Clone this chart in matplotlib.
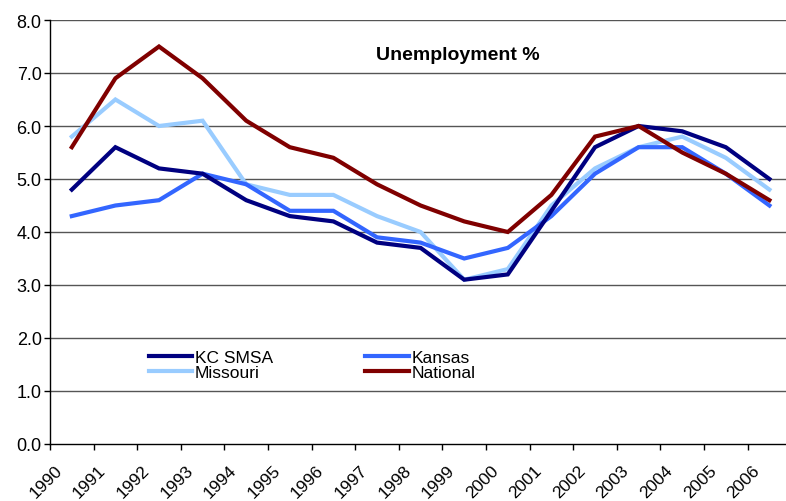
import matplotlib
matplotlib.use("Agg")
import matplotlib.pyplot as plt
import matplotlib.transforms as mtransforms
import numpy as np

years = [str(y) for y in range(1990, 2007)]
kc_smsa = [4.8, 5.6, 5.2, 5.1, 4.6, 4.3, 4.2, 3.8, 3.7, 3.1, 3.2, 4.4, 5.6, 6.0, 5.9, 5.6, 5.0]
kansas = [4.3, 4.5, 4.6, 5.1, 4.9, 4.4, 4.4, 3.9, 3.8, 3.5, 3.7, 4.3, 5.1, 5.6, 5.6, 5.1, 4.5]
missouri = [5.8, 6.5, 6.0, 6.1, 4.9, 4.7, 4.7, 4.3, 4.0, 3.1, 3.3, 4.5, 5.2, 5.6, 5.8, 5.4, 4.8]
national = [5.6, 6.9, 7.5, 6.9, 6.1, 5.6, 5.4, 4.9, 4.5, 4.2, 4.0, 4.7, 5.8, 6.0, 5.5, 5.1, 4.6]
y_ticks = [0, 1, 2, 3, 4, 5, 6, 7, 8]

plt.rcParams['font.family'] = ['Liberation Sans', 'DejaVu Sans']

W, H = 786, 502
fig = plt.figure(figsize=(W / 100, H / 100), dpi=100)
left_px, right_px, top_px, bottom_px = 50, 786, 21, 445
ax = fig.add_axes([left_px / W, 1 - bottom_px / H,
                   (right_px - left_px) / W, (bottom_px - top_px) / H])

x = np.arange(len(years))
step = 43.6
ax.set_xlim(-0.5, -0.5 + (right_px - left_px) / step)
ax.set_ylim(0, 8)

for yv in y_ticks[1:]:
    ax.axhline(yv, color='#555555', lw=1.0, zorder=1)

series = [
    ("KC SMSA", kc_smsa, "#000080"),
    ("Missouri", missouri, "#99CCFF"),
    ("Kansas", kansas, "#3366FF"),
    ("National", national, "#800000"),
]
draw_order = ["Missouri", "Kansas", "KC SMSA", "National"]
handles = {}
for name, vals, col in series:
    z = 3 + draw_order.index(name)
    (ln,) = ax.plot(x, vals, color=col, lw=3.0, solid_joinstyle='miter', zorder=z, label=name)
    handles[name] = ln

for sp in ['top', 'right']:
    ax.spines[sp].set_visible(False)
for sp in ['left', 'bottom']:
    ax.spines[sp].set_color('black')
    ax.spines[sp].set_linewidth(1.0)

ax.set_yticks(y_ticks)
ax.set_yticklabels([f"{v:.1f}" for v in y_ticks], fontsize=13)
ax.tick_params(axis='y', direction='out', length=4, width=1, pad=2)

ax.set_xticks(np.arange(-0.5, len(years) - 0.5, 1.0))
ax.set_xticklabels([])
ax.tick_params(axis='x', which='major', direction='out', length=4, width=1)
ax.set_xticks(x, minor=True)
ax.set_xticklabels(years, minor=True, fontsize=12.5, rotation=45,
                   ha='right', va='center', rotation_mode='anchor')
ax.tick_params(axis='x', which='minor', length=0, pad=17)
offset = mtransforms.ScaledTranslation(-12 / 100, 0, fig.dpi_scale_trans)
for lab in ax.get_xticklabels(minor=True):
    lab.set_transform(lab.get_transform() + offset)

fig.text(458 / W, 1 - 56 / H, "Unemployment %", fontsize=14, fontweight='bold',
         ha='center', va='center')

order = ["KC SMSA", "Missouri", "Kansas", "National"]
leg = ax.legend([handles[n] for n in order], order, loc='upper left',
                bbox_to_anchor=(149 / W, 1 - 350.5 / H), bbox_transform=fig.transFigure,
                ncol=2, frameon=False, fontsize=12.5, handlelength=2.5,
                handletextpad=0.15, columnspacing=5.3, labelspacing=0.0,
                borderpad=0, borderaxespad=0)

fig.savefig("out.png", dpi=100)
